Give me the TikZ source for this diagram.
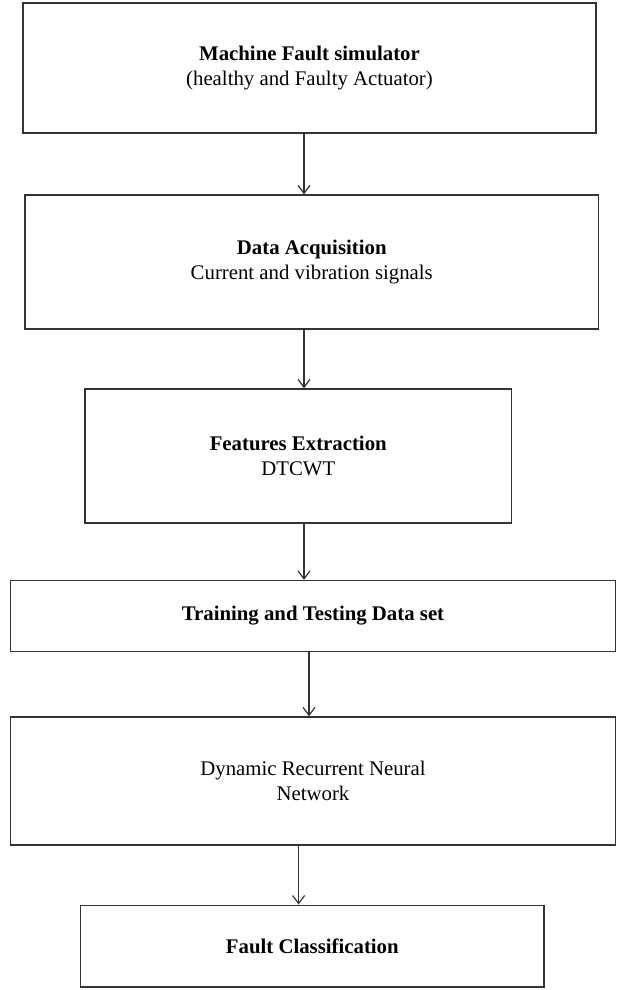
\documentclass[tikz,border=0pt]{standalone}
\usepackage{fontspec}
\setmainfont{Liberation Serif}
\usetikzlibrary{arrows.meta}

\begin{document}
\begin{tikzpicture}[x=0.5pt,y=-0.5pt,
  box/.style={draw=black!80, line width=0.65pt, align=center, inner sep=0pt, font=\fontsize{10.4}{12.5}\selectfont},
  flow/.style={draw=black!80, line width=0.6pt, -{Straight Barb[length=4pt,width=6pt]}}]
\useasboundingbox (0,0) rectangle (623,990);

%boxes
\node[box, minimum width=286.5pt, minimum height=65pt] (sim) at (309.5,68)
  {\textbf{Machine Fault simulator}\\(healthy and Faulty Actuator)};
\node[box, minimum width=286.75pt, minimum height=67pt] (daq) at (311.75,262)
  {\textbf{Data Acquisition}\\Current and vibration signals};
\node[box, minimum width=213.25pt, minimum height=67pt] (feat) at (298.25,456)
  {\textbf{Features Extraction}\\DTCWT};
\node[box, minimum width=302.5pt, minimum height=35.5pt] (data) at (313,616)
  {\textbf{Training and Testing Data set}};
\node[box, minimum width=302.5pt, minimum height=64pt] (drnn) at (313,781)
  {Dynamic Recurrent Neural\\Network};
\node[box, minimum width=231.7pt, minimum height=40.85pt] (cls) at (312.3,946)
  {\textbf{Fault Classification}};

%arrows
\coordinate (a1) at (304,0);
\coordinate (a4) at (309,0);
\coordinate (a5) at (298.6,0);
\draw[flow] (sim.south -| a1) -- (daq.north -| a1);
\draw[flow] (daq.south -| a1) -- (feat.north -| a1);
\draw[flow] (feat.south -| a1) -- (data.north -| a1);
\draw[flow] (data.south -| a4) -- (drnn.north -| a4);
\draw[flow] (drnn.south -| a5) -- (cls.north -| a5);
\end{tikzpicture}
\end{document}
